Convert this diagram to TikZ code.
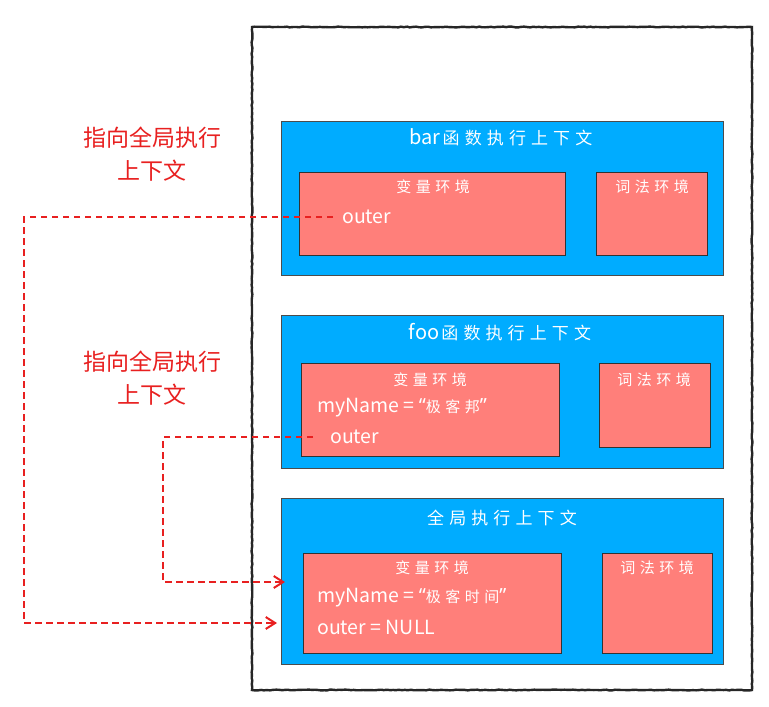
\documentclass[tikz,border=0pt]{standalone}
\usepackage{fontspec}
\setmainfont{Noto Sans CJK SC}
\newfontfamily\widecjk[LetterSpace=30]{Noto Sans CJK SC}
\newfontfamily\latinquote{Noto Sans}
\usetikzlibrary{
    arrows.meta,                      % puntas de flecha
    decorations.pathmorphing          % borde a mano alzada
}
\definecolor{ctx_blue}{RGB}{0,172,255}
\definecolor{env_red}{RGB}{255,127,122}
\definecolor{ptr_red}{RGB}{232,32,32}

\begin{document}
\begin{tikzpicture}[
      x=1pt, y=-1pt,
      >={Straight Barb[length=3.3mm,width=4.2mm]},
      stack/.style   ={draw=black!85, line width=2.4pt, minimum width=500pt, minimum height=663pt,
                       decorate, decoration={random steps, segment length=3pt, amplitude=0.4pt}},
      ctx/.style     ={draw=black!70, fill=ctx_blue, line width=0.8pt, minimum width=442pt},
      env/.style     ={draw=black!80, fill=env_red, line width=1pt},
      ctxtitle/.style={text=white, font=\fontsize{20}{20}\selectfont},
      envtitle/.style={text=white, font=\fontsize{15}{15}\selectfont\widecjk},
      entry/.style   ={text=white, font=\fontsize{19.5}{19.5}\selectfont, anchor=west, inner sep=0pt},
      note/.style    ={text=ptr_red, font=\fontsize{23}{33}\selectfont, align=center},
      ptr/.style     ={->, ptr_red, line width=2pt, dash pattern=on 6.5pt off 4.5pt}
    ]
    \useasboundingbox (0,0) rectangle (769,707);

    % --- Pila de llamadas (marco exterior) ---
    \node[stack] (stack) at (502, 358.5) {};

    % --- bar (y=198) ---
    \node[ctx, minimum height=154pt] (ctx_bar) at (502, 198) {};
    \node[ctxtitle] (t_bar) at (501, 137)
        {bar\hspace{2pt}{\fontsize{17}{17}\selectfont\widecjk 函数执行上下文}};
    \node[env, minimum width=266pt, minimum height=83pt] (var_bar) at (432, 213.5) {};
    \node[envtitle] (vt_bar) at (433, 187) {变量环境};
    \node[env, minimum width=111pt, minimum height=83pt] (lex_bar) at (651.5, 213.5) {};
    \node[envtitle] (lt_bar) at (652, 187) {词法环境};
    \node[entry] (outer_bar) at (342, 217) {outer};

    % --- foo (y=391) ---
    \node[ctx, minimum height=153pt] (ctx_foo) at (502, 391.5) {};
    \node[ctxtitle] (t_foo) at (500, 332)
        {foo\hspace{2pt}{\fontsize{17}{17}\selectfont\widecjk 函数执行上下文}};
    \node[env, minimum width=258pt, minimum height=93pt] (var_foo) at (430, 409.5) {};
    \node[envtitle] (vt_foo) at (430, 380) {变量环境};
    \node[env, minimum width=111pt, minimum height=84pt] (lex_foo) at (654.5, 405) {};
    \node[envtitle] (lt_foo) at (654, 380) {词法环境};
    \node[entry] (name_foo)  at (317, 408)
        {myName = {\latinquote “}{\fontsize{15}{15}\selectfont\widecjk 极客邦}{\latinquote ”}};
    \node[entry] (outer_foo) at (330, 437) {outer};

    % --- Global (y=581) ---
    \node[ctx, minimum height=166pt] (ctx_glb) at (502, 581) {};
    \node[ctxtitle] (t_glb) at (502, 518) {\fontsize{17}{17}\selectfont\widecjk 全局执行上下文};
    \node[env, minimum width=258pt, minimum height=100pt] (var_glb) at (432, 603) {};
    \node[envtitle] (vt_glb) at (432, 568) {变量环境};
    \node[env, minimum width=110pt, minimum height=100pt] (lex_glb) at (657, 603) {};
    \node[envtitle] (lt_glb) at (657, 568) {词法环境};
    \node[entry] (name_glb)  at (317, 598)
        {myName = {\latinquote “}{\fontsize{15}{15}\selectfont\widecjk 极客时间}{\latinquote ”}};
    \node[entry] (outer_glb) at (317, 627) {outer = NULL};

    % --- Notas ---
    \node[note] (note_bar) at (152, 154) {指向全局执行\\上下文};
    \node[note] (note_foo) at (152, 378) {指向全局执行\\上下文};

    % ================= PUNTEROS outer =================
    \coordinate (bar_turn) at (24, 623);
    \coordinate (bar_tip)  at (277, 623);
    \coordinate (foo_turn) at (163, 582);
    \coordinate (foo_tip)  at (285, 582);

    \draw[ptr] ([xshift=-9pt]outer_bar.west)  -| (bar_turn) -- (bar_tip);
    \draw[ptr] ([xshift=-17pt]outer_foo.west) -| (foo_turn) -- (foo_tip);

  \end{tikzpicture}
\end{document}
